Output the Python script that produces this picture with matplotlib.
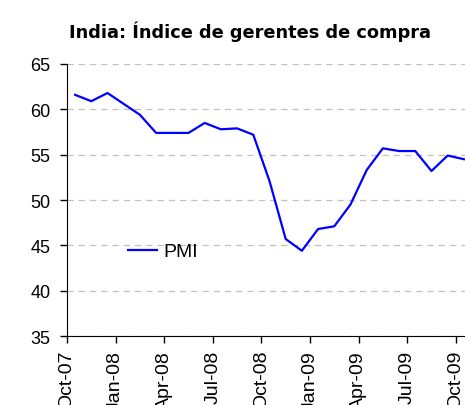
import matplotlib.pyplot as plt

# Datos: PMI de India, mensual oct-07 a oct-09
meses = ["Oct-07", "Nov-07", "Dec-07", "Jan-08", "Feb-08", "Mar-08", "Apr-08",
         "May-08", "Jun-08", "Jul-08", "Aug-08", "Sep-08", "Oct-08", "Nov-08",
         "Dec-08", "Jan-09", "Feb-09", "Mar-09", "Apr-09", "May-09", "Jun-09",
         "Jul-09", "Aug-09", "Sep-09", "Oct-09"]
pmi = [61.6, 60.9, 61.8, 60.6, 59.4, 57.4, 57.4, 57.4, 58.5, 57.8, 57.9, 57.2,
       52.1, 45.7, 44.4, 46.8, 47.1, 49.5, 53.3, 55.7, 55.4, 55.4, 53.2, 54.9,
       54.5]
etiquetas = ["Oct-07", "Jan-08", "Apr-08", "Jul-08", "Oct-08",
             "Jan-09", "Apr-09", "Jul-09", "Oct-09"]

plt.rcParams['font.family'] = ['Liberation Sans', 'DejaVu Sans']

fig = plt.figure(figsize=(4.65, 4.06), dpi=100)
ax = fig.add_axes([67/465, 1 - 337/406, 1 - 67/465, (337 - 65)/406])

x = [i + 0.5 for i in range(len(pmi))]
ax.plot(x, pmi, color="#0000ff", lw=1.6, label="PMI", clip_on=False)

ax.set_xlim(0, 24.57)
ax.set_ylim(35, 65)
ax.set_yticks(range(35, 70, 5))
ax.set_xticks(range(0, 25, 3))
ax.set_xticklabels(etiquetas, rotation=90, fontsize=14)
ax.tick_params(axis='y', labelsize=13, length=5, width=1, pad=7)
ax.tick_params(axis='x', length=5, width=1, pad=5)

ax.yaxis.grid(True, color="#c0c0c0", linestyle=(0, (5, 4)), lw=0.9)
ax.set_axisbelow(True)
for lado in ["top", "right"]:
    ax.spines[lado].set_visible(False)

ax.legend(loc="center left", bbox_to_anchor=(0.11, 0.31), frameon=False,
          fontsize=14, handlelength=1.5, handletextpad=0.3)

fig.text(250/465, 1 - 32/406, "India: Índice de gerentes de compra",
         ha="center", va="center", fontsize=12.8, fontweight="bold",
         family="DejaVu Sans")

fig.savefig("out.png", dpi=100)
